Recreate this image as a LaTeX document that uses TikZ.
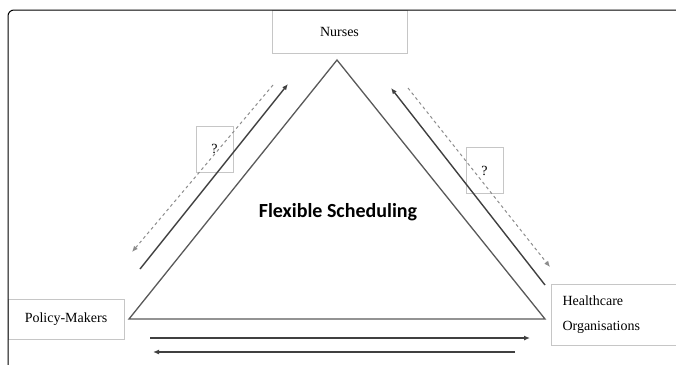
\documentclass[tikz,border=0pt]{standalone}
\usepackage{fontspec}
\setmainfont{Liberation Serif}
\newfontfamily\headfont{Carlito}
\usetikzlibrary{arrows.meta}
\begin{document}
\begin{tikzpicture}[x=1pt,y=-1pt,
  actor/.style={draw=gray!45,line width=1pt,font=\fontsize{14}{16}\selectfont,inner sep=0pt},
  qbox/.style={draw=gray!45,line width=1pt,minimum width=37pt,minimum height=46pt,font=\fontsize{14}{16}\selectfont},
  link/.style={draw=black!75,line width=1.4pt,-{Latex[length=6pt,width=5pt]}},
  maybe/.style={draw=black!45,line width=1pt,dash pattern=on 3pt off 3pt,-{Latex[length=6pt,width=5pt]}}]
\useasboundingbox (0,0) rectangle (676,364);
% boxes
\node[actor,minimum width=135pt,minimum height=43pt] (N) at (339.5,31.5) {Nurses};
\node[actor,minimum width=116pt,minimum height=40pt] (P) at (66,319) {Policy-Makers};
\node[actor,anchor=north west,text width=125pt,inner xsep=11pt,minimum height=61pt,align=left] (H) at (551,284) {Healthcare\\[9pt]Organisations};
\node[qbox] (Q1) at (214.5,149) {?};
\node[qbox] (Q2) at (484.5,170.5) {?};
% triangle
\coordinate (T) at (337,60);
\coordinate (L) at (129,319);
\coordinate (R) at (545,319);
\draw[black!65,line width=1.3pt,line join=miter] (T) -- (L) -- (R) -- cycle;
\node[font=\headfont\bfseries\fontsize{20}{22}\selectfont] (F) at (338,212) {Flexible Scheduling};
% arrows, left side
\coordinate (a1) at (140,269); \coordinate (a2) at (288,84);
\coordinate (b1) at (273,85);  \coordinate (b2) at (132,252);
\draw[link] (a1) -- (a2);
\draw[maybe] (b1) -- (b2);
% arrows, right side
\coordinate (c1) at (545,285); \coordinate (c2) at (391,88);
\coordinate (d1) at (408,88);  \coordinate (d2) at (550,267);
\draw[link] (c1) -- (c2);
\draw[maybe] (d1) -- (d2);
% arrows, bottom
\coordinate (e1) at (150,338); \coordinate (e2) at (530,338);
\coordinate (f1) at (515,352); \coordinate (f2) at (153,352);
\draw[link] (e1) -- (e2);
\draw[link] (f1) -- (f2);
% frame
\draw[black,line width=1pt,rounded corners=6pt] (8,366) -- (8,10) -- (680,10);
\end{tikzpicture}
\end{document}
